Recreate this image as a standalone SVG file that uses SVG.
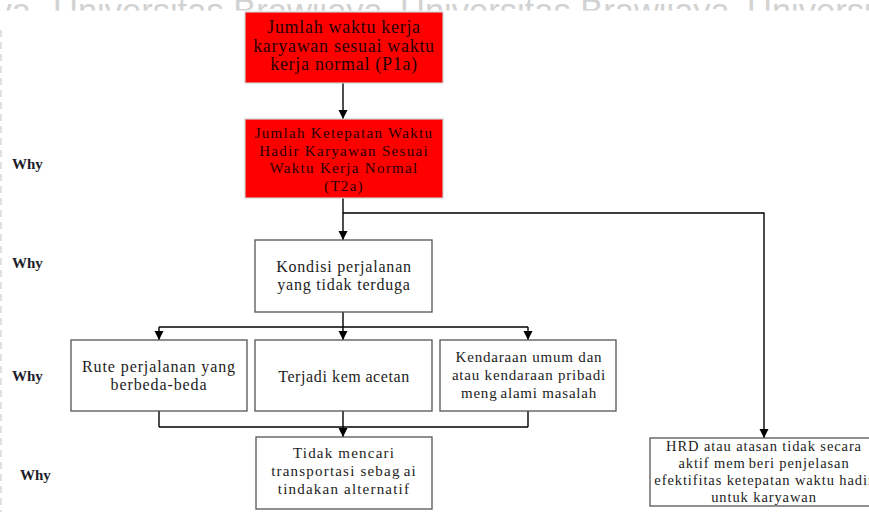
<svg xmlns="http://www.w3.org/2000/svg" width="869" height="512" viewBox="0 0 869 512">
  <defs>
    <marker id="arrow" markerUnits="userSpaceOnUse" markerWidth="10" markerHeight="10" refX="9" refY="4.5" orient="auto">
      <path d="M0,0 L9,4.5 L0,9 Z" fill="#000"/>
    </marker>
    <clipPath id="band">
      <rect x="0" y="0" width="869" height="10.5"/>
    </clipPath>
    <style>
      .wm { font-family: "Liberation Sans", Arial, sans-serif; font-size: 34.5px; fill: #d2d2d2; }
      .red { fill: #ff0000; stroke: #cfcfcf; stroke-width: 1.2; }
      .box { fill: #ffffff; stroke: #555555; stroke-width: 1.3; }
      .t { font-family: "Liberation Serif", "Times New Roman", serif; text-anchor: middle; fill: #1c1c1c; }
      .tr { font-family: "Liberation Serif", "Times New Roman", serif; text-anchor: middle; fill: #2a0000; }
      .why { font-family: "Liberation Serif", "Times New Roman", serif; font-size: 15px; font-weight: bold; fill: #1c1c2a; }
      .conn { fill: none; stroke: #000; stroke-width: 1.4; }
    </style>
  </defs>

  <rect width="869" height="512" fill="#ffffff"/>

  <!-- watermark band along the top edge -->
  <g clip-path="url(#band)">
    <text class="wm" x="31" y="23" text-anchor="end">ya</text>
    <text class="wm" x="53" y="23">Universitas Brawijaya</text>
    <text class="wm" x="400" y="23">Universitas Brawijaya</text>
    <text class="wm" x="747" y="23">Universitas Brawijaya</text>
  </g>
  <line x1="1" y1="30" x2="1" y2="512" stroke="#d8d8d8" stroke-width="1.5" stroke-dasharray="7 5"/>

  <!-- level labels -->
  <g id="why-labels">
    <text class="why" x="12" y="169">Why</text>
    <text class="why" x="12" y="268">Why</text>
    <text class="why" x="12" y="381">Why</text>
    <text class="why" x="20" y="480">Why</text>
  </g>

  <!-- connectors -->
  <g id="connectors">
    <line class="conn" x1="343" y1="83" x2="343" y2="119" marker-end="url(#arrow)"/>
    <line class="conn" x1="343" y1="198" x2="343" y2="240" marker-end="url(#arrow)"/>
    <polyline class="conn" points="343,213 764,213 764,438" marker-end="url(#arrow)"/>
    <line class="conn" x1="343" y1="312" x2="343" y2="327"/>
    <line class="conn" x1="159" y1="327" x2="528" y2="327"/>
    <line class="conn" x1="159" y1="327" x2="159" y2="340" marker-end="url(#arrow)"/>
    <line class="conn" x1="343" y1="327" x2="343" y2="340" marker-end="url(#arrow)"/>
    <line class="conn" x1="528" y1="327" x2="528" y2="340" marker-end="url(#arrow)"/>
    <line class="conn" x1="159" y1="411" x2="159" y2="427"/>
    <line class="conn" x1="528" y1="411" x2="528" y2="427"/>
    <line class="conn" x1="159" y1="427" x2="528" y2="427"/>
    <line class="conn" x1="343" y1="411" x2="343" y2="437" marker-end="url(#arrow)"/>
  </g>

  <g id="p1a">
    <rect class="red" x="245" y="12" width="198" height="71"/>
    <text class="tr" font-size="18" letter-spacing="0.7" x="344" y="33">Jumlah waktu kerja</text>
    <text class="tr" font-size="18" letter-spacing="0.7" x="344" y="51.5">karyawan sesuai waktu</text>
    <text class="tr" font-size="18" letter-spacing="0.7" x="344" y="70">kerja normal (P1a)</text>
  </g>

  <g id="t2a">
    <rect class="red" x="245" y="119" width="198" height="79"/>
    <text class="tr" font-size="15" letter-spacing="1.3" x="344" y="138">Jumlah Ketepatan Waktu</text>
    <text class="tr" font-size="15" letter-spacing="1.3" x="344" y="155.5">Hadir Karyawan Sesuai</text>
    <text class="tr" font-size="15" letter-spacing="1.3" x="344" y="173">Waktu Kerja Normal</text>
    <text class="tr" font-size="15" letter-spacing="1.3" x="344" y="190.5">(T2a)</text>
  </g>

  <g id="kondisi">
    <rect class="box" x="255" y="240" width="177" height="72"/>
    <text class="t" font-size="16" letter-spacing="0.8" x="344" y="272">Kondisi perjalanan</text>
    <text class="t" font-size="16" letter-spacing="0.8" x="344" y="290">yang tidak terduga</text>
  </g>

  <g id="rute">
    <rect class="box" x="71" y="340" width="176" height="71"/>
    <text class="t" font-size="16" letter-spacing="0.9" x="159" y="372">Rute perjalanan yang</text>
    <text class="t" font-size="16" letter-spacing="0.9" x="159" y="390">berbeda-beda</text>
  </g>

  <g id="kemacetan">
    <rect class="box" x="255" y="340" width="177" height="71"/>
    <text class="t" font-size="16" letter-spacing="0.6" x="344" y="382">Terjadi kem<tspan dx="4">acetan</tspan></text>
  </g>

  <g id="kendaraan">
    <rect class="box" x="440" y="340" width="176" height="71"/>
    <text class="t" font-size="15" letter-spacing="0.8" x="529" y="362">Kendaraan umum dan</text>
    <text class="t" font-size="15" letter-spacing="0.8" x="529" y="380">atau kendaraan pribadi</text>
    <text class="t" font-size="15" letter-spacing="0.8" x="529" y="398">meng<tspan dx="3">alami masalah</tspan></text>
  </g>

  <g id="transportasi">
    <rect class="box" x="256" y="437" width="176" height="72"/>
    <text class="t" font-size="15" letter-spacing="1.2" x="344" y="458">Tidak mencari</text>
    <text class="t" font-size="15" letter-spacing="1.2" x="344" y="476">transportasi sebag<tspan dx="3">ai</tspan></text>
    <text class="t" font-size="15" letter-spacing="1.2" x="344" y="494">tindakan alternatif</text>
  </g>

  <g id="hrd">
    <rect class="box" x="650" y="438" width="230" height="68"/>
    <text class="t" font-size="14.5" letter-spacing="0.9" x="764" y="451">HRD atau atasan tidak secara</text>
    <text class="t" font-size="14.5" letter-spacing="0.9" x="764" y="468">aktif mem<tspan dx="3">beri penjelasan</tspan></text>
    <text class="t" font-size="14.5" letter-spacing="0.9" x="764" y="485">efektifitas ketepatan waktu hadir</text>
    <text class="t" font-size="14.5" letter-spacing="0.9" x="764" y="502">untuk karyawan</text>
  </g>
</svg>
